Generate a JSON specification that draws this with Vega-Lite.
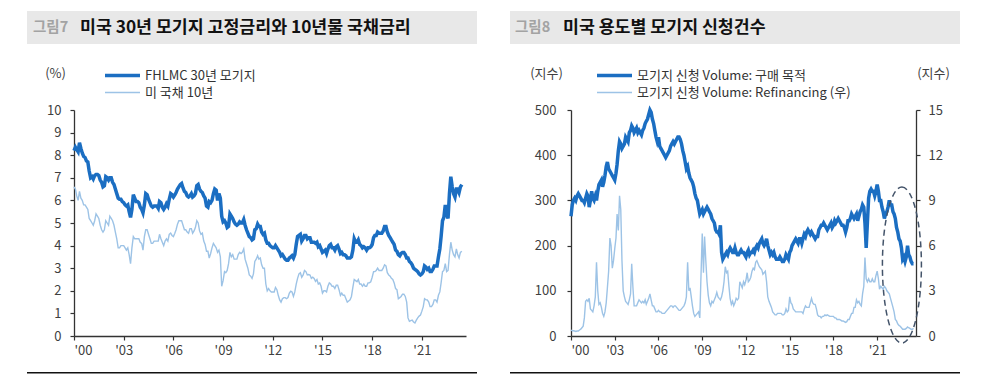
{
  "$schema": "https://vega.github.io/schema/vega-lite/v6.json",
  "padding": {"left": 27, "top": 11, "right": 0, "bottom": 0},
  "background": "white",
  "config": {
    "font": "Noto Sans CJK KR",
    "view": {"stroke": null},
    "axis": {"grid": false, "domainColor": "#333333", "domainWidth": 1.3, "tickColor": "#333333", "tickSize": 4, "tickWidth": 1.2, "labelColor": "#3f3f3f", "labelFontSize": 13, "labelFont": "Noto Sans CJK KR", "titleFont": "Noto Sans CJK KR", "titleFontSize": 13, "titleFontWeight": "normal", "titleColor": "#3f3f3f"},
    "legend": {"labelFont": "Noto Sans CJK KR", "labelLimit": 0}
  },
  "datasets": {
    "rates": [
      {"d":"2000-01","m":8.2,"t":6.6},{"d":"2000-02","m":8.35,"t":6.5},{"d":"2000-03","m":8.25,"t":6.2},{"d":"2000-04","m":8.15,"t":6.0},{"d":"2000-05","m":8.55,"t":6.4},{"d":"2000-06","m":8.3,"t":6.1},{"d":"2000-07","m":8.1,"t":6.0},{"d":"2000-08","m":7.95,"t":5.8},{"d":"2000-09","m":7.9,"t":5.8},{"d":"2000-10","m":7.75,"t":5.7},{"d":"2000-11","m":7.7,"t":5.6},{"d":"2000-12","m":7.3,"t":5.2},
      {"d":"2001-01","m":7.0,"t":5.1},{"d":"2001-02","m":7.05,"t":5.0},{"d":"2001-03","m":6.95,"t":4.9},{"d":"2001-04","m":7.1,"t":5.1},{"d":"2001-05","m":7.15,"t":5.4},{"d":"2001-06","m":7.15,"t":5.3},{"d":"2001-07","m":7.1,"t":5.2},{"d":"2001-08","m":6.9,"t":4.9},{"d":"2001-09","m":6.8,"t":4.7},{"d":"2001-10","m":6.6,"t":4.6},{"d":"2001-11","m":6.65,"t":4.7},{"d":"2001-12","m":7.05,"t":5.1},
      {"d":"2002-01","m":7.0,"t":5.0},{"d":"2002-02","m":6.9,"t":4.9},{"d":"2002-03","m":7.0,"t":5.3},{"d":"2002-04","m":7.0,"t":5.2},{"d":"2002-05","m":6.8,"t":5.1},{"d":"2002-06","m":6.7,"t":4.9},{"d":"2002-07","m":6.5,"t":4.6},{"d":"2002-08","m":6.3,"t":4.3},{"d":"2002-09","m":6.1,"t":3.9},{"d":"2002-10","m":6.05,"t":3.9},{"d":"2002-11","m":6.05,"t":4.0},{"d":"2002-12","m":5.95,"t":4.0},
      {"d":"2003-01","m":5.9,"t":4.0},{"d":"2003-02","m":5.8,"t":3.9},{"d":"2003-03","m":5.75,"t":3.8},{"d":"2003-04","m":5.8,"t":3.9},{"d":"2003-05","m":5.5,"t":3.6},{"d":"2003-06","m":5.25,"t":3.2},{"d":"2003-07","m":5.6,"t":3.9},{"d":"2003-08","m":6.25,"t":4.4},{"d":"2003-09","m":6.1,"t":4.3},{"d":"2003-10","m":5.95,"t":4.3},{"d":"2003-11","m":5.95,"t":4.3},{"d":"2003-12","m":5.9,"t":4.3},
      {"d":"2004-01","m":5.7,"t":4.15},{"d":"2004-02","m":5.6,"t":4.1},{"d":"2004-03","m":5.45,"t":3.8},{"d":"2004-04","m":5.8,"t":4.4},{"d":"2004-05","m":6.3,"t":4.7},{"d":"2004-06","m":6.25,"t":4.7},{"d":"2004-07","m":6.05,"t":4.5},{"d":"2004-08","m":5.9,"t":4.3},{"d":"2004-09","m":5.75,"t":4.1},{"d":"2004-10","m":5.7,"t":4.1},{"d":"2004-11","m":5.75,"t":4.2},{"d":"2004-12","m":5.75,"t":4.2},
      {"d":"2005-01","m":5.75,"t":4.2},{"d":"2005-02","m":5.65,"t":4.2},{"d":"2005-03","m":5.95,"t":4.5},{"d":"2005-04","m":5.9,"t":4.3},{"d":"2005-05","m":5.7,"t":4.15},{"d":"2005-06","m":5.6,"t":4.0},{"d":"2005-07","m":5.7,"t":4.2},{"d":"2005-08","m":5.85,"t":4.3},{"d":"2005-09","m":5.75,"t":4.2},{"d":"2005-10","m":6.05,"t":4.5},{"d":"2005-11","m":6.3,"t":4.55},{"d":"2005-12","m":6.25,"t":4.45},
      {"d":"2006-01","m":6.15,"t":4.4},{"d":"2006-02","m":6.25,"t":4.55},{"d":"2006-03","m":6.35,"t":4.7},{"d":"2006-04","m":6.5,"t":4.95},{"d":"2006-05","m":6.6,"t":5.1},{"d":"2006-06","m":6.7,"t":5.1},{"d":"2006-07","m":6.75,"t":5.1},{"d":"2006-08","m":6.55,"t":4.9},{"d":"2006-09","m":6.4,"t":4.7},{"d":"2006-10","m":6.35,"t":4.7},{"d":"2006-11","m":6.2,"t":4.6},{"d":"2006-12","m":6.15,"t":4.55},
      {"d":"2007-01","m":6.2,"t":4.75},{"d":"2007-02","m":6.3,"t":4.75},{"d":"2007-03","m":6.15,"t":4.55},{"d":"2007-04","m":6.2,"t":4.65},{"d":"2007-05","m":6.3,"t":4.8},{"d":"2007-06","m":6.65,"t":5.1},{"d":"2007-07","m":6.7,"t":5.0},{"d":"2007-08","m":6.5,"t":4.65},{"d":"2007-09","m":6.4,"t":4.5},{"d":"2007-10","m":6.35,"t":4.55},{"d":"2007-11","m":6.2,"t":4.2},{"d":"2007-12","m":6.1,"t":4.05},
      {"d":"2008-01","m":5.75,"t":3.75},{"d":"2008-02","m":5.7,"t":3.75},{"d":"2008-03","m":5.95,"t":3.45},{"d":"2008-04","m":5.9,"t":3.65},{"d":"2008-05","m":6.0,"t":3.9},{"d":"2008-06","m":6.3,"t":4.1},{"d":"2008-07","m":6.5,"t":4.0},{"d":"2008-08","m":6.45,"t":3.9},{"d":"2008-09","m":6.0,"t":3.7},{"d":"2008-10","m":6.3,"t":3.8},{"d":"2008-11","m":6.1,"t":3.5},{"d":"2008-12","m":5.3,"t":2.2},
      {"d":"2009-01","m":5.05,"t":2.45},{"d":"2009-02","m":5.1,"t":2.85},{"d":"2009-03","m":5.0,"t":2.8},{"d":"2009-04","m":4.8,"t":2.9},{"d":"2009-05","m":4.85,"t":3.2},{"d":"2009-06","m":5.4,"t":3.7},{"d":"2009-07","m":5.3,"t":3.5},{"d":"2009-08","m":5.2,"t":3.6},{"d":"2009-09","m":5.05,"t":3.4},{"d":"2009-10","m":4.95,"t":3.4},{"d":"2009-11","m":4.9,"t":3.4},{"d":"2009-12","m":4.95,"t":3.6},
      {"d":"2010-01","m":5.05,"t":3.7},{"d":"2010-02","m":5.0,"t":3.65},{"d":"2010-03","m":5.0,"t":3.7},{"d":"2010-04","m":5.15,"t":3.85},{"d":"2010-05","m":4.9,"t":3.4},{"d":"2010-06","m":4.7,"t":3.2},{"d":"2010-07","m":4.55,"t":3.0},{"d":"2010-08","m":4.4,"t":2.7},{"d":"2010-09","m":4.35,"t":2.65},{"d":"2010-10","m":4.25,"t":2.55},{"d":"2010-11","m":4.3,"t":2.75},{"d":"2010-12","m":4.7,"t":3.3},
      {"d":"2011-01","m":4.75,"t":3.4},{"d":"2011-02","m":4.95,"t":3.55},{"d":"2011-03","m":4.85,"t":3.4},{"d":"2011-04","m":4.85,"t":3.45},{"d":"2011-05","m":4.6,"t":3.15},{"d":"2011-06","m":4.5,"t":3.0},{"d":"2011-07","m":4.55,"t":3.0},{"d":"2011-08","m":4.25,"t":2.3},{"d":"2011-09","m":4.1,"t":2.0},{"d":"2011-10","m":4.1,"t":2.1},{"d":"2011-11","m":4.0,"t":2.0},{"d":"2011-12","m":3.95,"t":1.95},
      {"d":"2012-01","m":3.9,"t":1.95},{"d":"2012-02","m":3.9,"t":1.95},{"d":"2012-03","m":4.0,"t":2.15},{"d":"2012-04","m":3.9,"t":2.05},{"d":"2012-05","m":3.8,"t":1.8},{"d":"2012-06","m":3.7,"t":1.6},{"d":"2012-07","m":3.55,"t":1.5},{"d":"2012-08","m":3.6,"t":1.65},{"d":"2012-09","m":3.5,"t":1.7},{"d":"2012-10","m":3.4,"t":1.7},{"d":"2012-11","m":3.35,"t":1.65},{"d":"2012-12","m":3.35,"t":1.7},
      {"d":"2013-01","m":3.45,"t":1.9},{"d":"2013-02","m":3.5,"t":1.98},{"d":"2013-03","m":3.55,"t":1.95},{"d":"2013-04","m":3.45,"t":1.75},{"d":"2013-05","m":3.6,"t":1.95},{"d":"2013-06","m":4.05,"t":2.3},{"d":"2013-07","m":4.4,"t":2.55},{"d":"2013-08","m":4.45,"t":2.75},{"d":"2013-09","m":4.5,"t":2.8},{"d":"2013-10","m":4.2,"t":2.6},{"d":"2013-11","m":4.3,"t":2.7},{"d":"2013-12","m":4.45,"t":2.9},
      {"d":"2014-01","m":4.45,"t":2.85},{"d":"2014-02","m":4.3,"t":2.7},{"d":"2014-03","m":4.35,"t":2.72},{"d":"2014-04","m":4.35,"t":2.7},{"d":"2014-05","m":4.15,"t":2.55},{"d":"2014-06","m":4.15,"t":2.6},{"d":"2014-07","m":4.15,"t":2.55},{"d":"2014-08","m":4.1,"t":2.42},{"d":"2014-09","m":4.15,"t":2.5},{"d":"2014-10","m":3.95,"t":2.3},{"d":"2014-11","m":4.0,"t":2.35},{"d":"2014-12","m":3.85,"t":2.2},
      {"d":"2015-01","m":3.7,"t":1.9},{"d":"2015-02","m":3.75,"t":2.0},{"d":"2015-03","m":3.8,"t":2.0},{"d":"2015-04","m":3.65,"t":1.95},{"d":"2015-05","m":3.85,"t":2.2},{"d":"2015-06","m":4.0,"t":2.35},{"d":"2015-07","m":4.05,"t":2.3},{"d":"2015-08","m":3.9,"t":2.2},{"d":"2015-09","m":3.9,"t":2.2},{"d":"2015-10","m":3.8,"t":2.1},{"d":"2015-11","m":3.95,"t":2.25},{"d":"2015-12","m":4.0,"t":2.25},
      {"d":"2016-01","m":3.85,"t":2.05},{"d":"2016-02","m":3.65,"t":1.8},{"d":"2016-03","m":3.7,"t":1.9},{"d":"2016-04","m":3.6,"t":1.8},{"d":"2016-05","m":3.6,"t":1.8},{"d":"2016-06","m":3.55,"t":1.65},{"d":"2016-07","m":3.45,"t":1.5},{"d":"2016-08","m":3.45,"t":1.55},{"d":"2016-09","m":3.45,"t":1.6},{"d":"2016-10","m":3.5,"t":1.75},{"d":"2016-11","m":3.8,"t":2.15},{"d":"2016-12","m":4.3,"t":2.5},
      {"d":"2017-01","m":4.15,"t":2.45},{"d":"2017-02","m":4.15,"t":2.4},{"d":"2017-03","m":4.25,"t":2.5},{"d":"2017-04","m":4.05,"t":2.3},{"d":"2017-05","m":4.0,"t":2.3},{"d":"2017-06","m":3.9,"t":2.2},{"d":"2017-07","m":3.95,"t":2.3},{"d":"2017-08","m":3.9,"t":2.2},{"d":"2017-09","m":3.8,"t":2.2},{"d":"2017-10","m":3.9,"t":2.35},{"d":"2017-11","m":3.9,"t":2.35},{"d":"2017-12","m":3.95,"t":2.4},
      {"d":"2018-01","m":4.05,"t":2.6},{"d":"2018-02","m":4.35,"t":2.85},{"d":"2018-03","m":4.45,"t":2.85},{"d":"2018-04","m":4.45,"t":2.9},{"d":"2018-05","m":4.6,"t":3.0},{"d":"2018-06","m":4.55,"t":2.9},{"d":"2018-07","m":4.55,"t":2.9},{"d":"2018-08","m":4.55,"t":2.9},{"d":"2018-09","m":4.65,"t":3.0},{"d":"2018-10","m":4.85,"t":3.15},{"d":"2018-11","m":4.85,"t":3.1},{"d":"2018-12","m":4.6,"t":2.8},
      {"d":"2019-01","m":4.45,"t":2.7},{"d":"2019-02","m":4.35,"t":2.65},{"d":"2019-03","m":4.25,"t":2.55},{"d":"2019-04","m":4.15,"t":2.5},{"d":"2019-05","m":4.05,"t":2.35},{"d":"2019-06","m":3.8,"t":2.1},{"d":"2019-07","m":3.75,"t":2.05},{"d":"2019-08","m":3.6,"t":1.65},{"d":"2019-09","m":3.55,"t":1.7},{"d":"2019-10","m":3.65,"t":1.75},{"d":"2019-11","m":3.7,"t":1.85},{"d":"2019-12","m":3.7,"t":1.85},
      {"d":"2020-01","m":3.6,"t":1.75},{"d":"2020-02","m":3.45,"t":1.5},{"d":"2020-03","m":3.45,"t":0.8},{"d":"2020-04","m":3.3,"t":0.65},{"d":"2020-05","m":3.25,"t":0.68},{"d":"2020-06","m":3.15,"t":0.7},{"d":"2020-07","m":3.0,"t":0.62},{"d":"2020-08","m":2.95,"t":0.58},{"d":"2020-09","m":2.9,"t":0.7},{"d":"2020-10","m":2.85,"t":0.8},{"d":"2020-11","m":2.75,"t":0.88},{"d":"2020-12","m":2.7,"t":0.93},
      {"d":"2021-01","m":2.75,"t":1.1},{"d":"2021-02","m":2.85,"t":1.3},{"d":"2021-03","m":3.1,"t":1.65},{"d":"2021-04","m":3.05,"t":1.6},{"d":"2021-05","m":2.95,"t":1.6},{"d":"2021-06","m":3.0,"t":1.5},{"d":"2021-07","m":2.85,"t":1.3},{"d":"2021-08","m":2.85,"t":1.3},{"d":"2021-09","m":2.95,"t":1.4},{"d":"2021-10","m":3.1,"t":1.6},{"d":"2021-11","m":3.1,"t":1.6},{"d":"2021-12","m":3.1,"t":1.5},
      {"d":"2022-01","m":3.5,"t":1.8},{"d":"2022-02","m":3.85,"t":1.95},{"d":"2022-03","m":4.4,"t":2.35},{"d":"2022-04","m":5.1,"t":2.85},{"d":"2022-05","m":5.25,"t":2.9},{"d":"2022-06","m":5.8,"t":3.2},{"d":"2022-07","m":5.4,"t":2.85},{"d":"2022-08","m":5.2,"t":2.9},{"d":"2022-09","m":6.3,"t":3.6},{"d":"2022-10","m":7.05,"t":4.15},{"d":"2022-11","m":6.6,"t":3.8},{"d":"2022-12","m":6.3,"t":3.6},
      {"d":"2023-01","m":6.15,"t":3.5},{"d":"2023-02","m":6.5,"t":3.85},{"d":"2023-03","m":6.5,"t":3.6},{"d":"2023-04","m":6.35,"t":3.45},{"d":"2023-05","m":6.6,"t":3.7},{"d":"2023-06","m":6.7,"t":3.75}
    ],
    "mba": [
      {"d":"2000-01","p":265,"r":0.4},{"d":"2000-02","p":290,"r":0.35},{"d":"2000-03","p":300,"r":0.35},{"d":"2000-04","p":305,"r":0.33},{"d":"2000-05","p":300,"r":0.3},{"d":"2000-06","p":310,"r":0.33},{"d":"2000-07","p":315,"r":0.33},{"d":"2000-08","p":310,"r":0.4},{"d":"2000-09","p":305,"r":0.45},{"d":"2000-10","p":300,"r":0.55},{"d":"2000-11","p":300,"r":0.65},{"d":"2000-12","p":295,"r":1.2},
      {"d":"2001-01","p":305,"r":2.3},{"d":"2001-02","p":315,"r":2.4},{"d":"2001-03","p":310,"r":2.3},{"d":"2001-04","p":285,"r":2.5},{"d":"2001-05","p":300,"r":1.8},{"d":"2001-06","p":320,"r":1.7},{"d":"2001-07","p":305,"r":1.6},{"d":"2001-08","p":300,"r":2.0},{"d":"2001-09","p":310,"r":2.6},{"d":"2001-10","p":300,"r":4.9},{"d":"2001-11","p":320,"r":3.0},{"d":"2001-12","p":335,"r":2.1},
      {"d":"2002-01","p":340,"r":2.2},{"d":"2002-02","p":345,"r":1.9},{"d":"2002-03","p":330,"r":1.5},{"d":"2002-04","p":340,"r":1.3},{"d":"2002-05","p":355,"r":1.6},{"d":"2002-06","p":375,"r":2.2},{"d":"2002-07","p":385,"r":3.2},{"d":"2002-08","p":370,"r":4.3},{"d":"2002-09","p":365,"r":6.5},{"d":"2002-10","p":360,"r":6.0},{"d":"2002-11","p":355,"r":4.5},{"d":"2002-12","p":350,"r":5.0},
      {"d":"2003-01","p":345,"r":5.8},{"d":"2003-02","p":360,"r":6.5},{"d":"2003-03","p":380,"r":8.1},{"d":"2003-04","p":410,"r":7.0},{"d":"2003-05","p":430,"r":9.3},{"d":"2003-06","p":425,"r":8.4},{"d":"2003-07","p":415,"r":5.0},{"d":"2003-08","p":420,"r":3.0},{"d":"2003-09","p":425,"r":2.6},{"d":"2003-10","p":440,"r":2.3},{"d":"2003-11","p":435,"r":2.2},{"d":"2003-12","p":430,"r":2.1},
      {"d":"2004-01","p":450,"r":2.4},{"d":"2004-02","p":455,"r":2.8},{"d":"2004-03","p":465,"r":4.8},{"d":"2004-04","p":460,"r":3.2},{"d":"2004-05","p":450,"r":2.0},{"d":"2004-06","p":455,"r":2.0},{"d":"2004-07","p":460,"r":2.0},{"d":"2004-08","p":450,"r":2.2},{"d":"2004-09","p":455,"r":2.4},{"d":"2004-10","p":450,"r":2.3},{"d":"2004-11","p":445,"r":2.2},{"d":"2004-12","p":455,"r":2.3},
      {"d":"2005-01","p":460,"r":2.2},{"d":"2005-02","p":470,"r":2.4},{"d":"2005-03","p":475,"r":2.1},{"d":"2005-04","p":480,"r":2.3},{"d":"2005-05","p":490,"r":2.5},{"d":"2005-06","p":500,"r":2.8},{"d":"2005-07","p":495,"r":2.4},{"d":"2005-08","p":480,"r":2.0},{"d":"2005-09","p":470,"r":2.0},{"d":"2005-10","p":455,"r":1.8},{"d":"2005-11","p":440,"r":1.6},{"d":"2005-12","p":430,"r":1.6},
      {"d":"2006-01","p":440,"r":1.7},{"d":"2006-02","p":420,"r":1.6},{"d":"2006-03","p":415,"r":1.6},{"d":"2006-04","p":410,"r":1.5},{"d":"2006-05","p":405,"r":1.5},{"d":"2006-06","p":400,"r":1.5},{"d":"2006-07","p":395,"r":1.6},{"d":"2006-08","p":400,"r":1.7},{"d":"2006-09","p":405,"r":1.8},{"d":"2006-10","p":410,"r":1.9},{"d":"2006-11","p":420,"r":2.0},{"d":"2006-12","p":425,"r":2.0},
      {"d":"2007-01","p":430,"r":1.9},{"d":"2007-02","p":425,"r":2.0},{"d":"2007-03","p":430,"r":2.0},{"d":"2007-04","p":435,"r":1.9},{"d":"2007-05","p":440,"r":1.8},{"d":"2007-06","p":440,"r":1.7},{"d":"2007-07","p":435,"r":1.7},{"d":"2007-08","p":425,"r":1.8},{"d":"2007-09","p":410,"r":1.9},{"d":"2007-10","p":400,"r":2.0},{"d":"2007-11","p":385,"r":2.2},{"d":"2007-12","p":370,"r":2.6},
      {"d":"2008-01","p":375,"r":4.9},{"d":"2008-02","p":360,"r":3.0},{"d":"2008-03","p":350,"r":3.2},{"d":"2008-04","p":345,"r":2.6},{"d":"2008-05","p":340,"r":2.0},{"d":"2008-06","p":330,"r":1.5},{"d":"2008-07","p":315,"r":1.3},{"d":"2008-08","p":305,"r":1.4},{"d":"2008-09","p":300,"r":1.5},{"d":"2008-10","p":285,"r":1.6},{"d":"2008-11","p":270,"r":1.2},{"d":"2008-12","p":275,"r":4.0},
      {"d":"2009-01","p":280,"r":6.8},{"d":"2009-02","p":270,"r":4.2},{"d":"2009-03","p":275,"r":6.6},{"d":"2009-04","p":280,"r":5.0},{"d":"2009-05","p":285,"r":3.6},{"d":"2009-06","p":280,"r":2.7},{"d":"2009-07","p":275,"r":2.2},{"d":"2009-08","p":270,"r":2.0},{"d":"2009-09","p":260,"r":2.3},{"d":"2009-10","p":255,"r":2.2},{"d":"2009-11","p":250,"r":2.4},{"d":"2009-12","p":235,"r":2.6},
      {"d":"2010-01","p":230,"r":2.9},{"d":"2010-02","p":230,"r":2.6},{"d":"2010-03","p":225,"r":2.5},{"d":"2010-04","p":245,"r":2.4},{"d":"2010-05","p":185,"r":2.6},{"d":"2010-06","p":170,"r":3.0},{"d":"2010-07","p":175,"r":3.6},{"d":"2010-08","p":180,"r":4.6},{"d":"2010-09","p":185,"r":4.2},{"d":"2010-10","p":180,"r":4.3},{"d":"2010-11","p":190,"r":3.3},{"d":"2010-12","p":195,"r":2.5},
      {"d":"2011-01","p":190,"r":2.1},{"d":"2011-02","p":185,"r":2.3},{"d":"2011-03","p":185,"r":2.0},{"d":"2011-04","p":195,"r":2.2},{"d":"2011-05","p":185,"r":2.5},{"d":"2011-06","p":180,"r":2.4},{"d":"2011-07","p":180,"r":2.5},{"d":"2011-08","p":185,"r":3.6},{"d":"2011-09","p":190,"r":3.4},{"d":"2011-10","p":185,"r":3.2},{"d":"2011-11","p":185,"r":3.6},{"d":"2011-12","p":180,"r":3.4},
      {"d":"2012-01","p":175,"r":3.7},{"d":"2012-02","p":185,"r":4.2},{"d":"2012-03","p":190,"r":3.6},{"d":"2012-04","p":180,"r":3.7},{"d":"2012-05","p":185,"r":3.9},{"d":"2012-06","p":185,"r":4.3},{"d":"2012-07","p":190,"r":4.5},{"d":"2012-08","p":185,"r":4.4},{"d":"2012-09","p":195,"r":4.9},{"d":"2012-10","p":200,"r":5.0},{"d":"2012-11","p":195,"r":4.8},{"d":"2012-12","p":205,"r":4.6},
      {"d":"2013-01","p":210,"r":4.5},{"d":"2013-02","p":215,"r":4.4},{"d":"2013-03","p":205,"r":4.1},{"d":"2013-04","p":200,"r":4.2},{"d":"2013-05","p":205,"r":4.3},{"d":"2013-06","p":215,"r":3.6},{"d":"2013-07","p":200,"r":2.6},{"d":"2013-08","p":190,"r":2.3},{"d":"2013-09","p":180,"r":2.1},{"d":"2013-10","p":185,"r":1.9},{"d":"2013-11","p":180,"r":1.6},{"d":"2013-12","p":185,"r":1.5},
      {"d":"2014-01","p":175,"r":1.4},{"d":"2014-02","p":170,"r":1.4},{"d":"2014-03","p":170,"r":1.5},{"d":"2014-04","p":170,"r":1.5},{"d":"2014-05","p":175,"r":1.5},{"d":"2014-06","p":170,"r":1.5},{"d":"2014-07","p":165,"r":1.4},{"d":"2014-08","p":165,"r":1.4},{"d":"2014-09","p":170,"r":1.5},{"d":"2014-10","p":180,"r":1.8},{"d":"2014-11","p":175,"r":1.6},{"d":"2014-12","p":170,"r":1.7},
      {"d":"2015-01","p":185,"r":2.6},{"d":"2015-02","p":190,"r":2.2},{"d":"2015-03","p":200,"r":2.1},{"d":"2015-04","p":205,"r":1.8},{"d":"2015-05","p":210,"r":1.7},{"d":"2015-06","p":215,"r":1.6},{"d":"2015-07","p":210,"r":1.6},{"d":"2015-08","p":205,"r":1.6},{"d":"2015-09","p":215,"r":1.6},{"d":"2015-10","p":215,"r":1.6},{"d":"2015-11","p":205,"r":1.6},{"d":"2015-12","p":215,"r":1.5},
      {"d":"2016-01","p":225,"r":1.8},{"d":"2016-02","p":220,"r":2.0},{"d":"2016-03","p":230,"r":1.9},{"d":"2016-04","p":235,"r":1.9},{"d":"2016-05","p":230,"r":1.9},{"d":"2016-06","p":225,"r":2.2},{"d":"2016-07","p":230,"r":2.5},{"d":"2016-08","p":225,"r":2.2},{"d":"2016-09","p":220,"r":2.1},{"d":"2016-10","p":215,"r":2.1},{"d":"2016-11","p":220,"r":1.8},{"d":"2016-12","p":220,"r":1.4},
      {"d":"2017-01","p":235,"r":1.3},{"d":"2017-02","p":240,"r":1.3},{"d":"2017-03","p":245,"r":1.2},{"d":"2017-04","p":245,"r":1.3},{"d":"2017-05","p":250,"r":1.3},{"d":"2017-06","p":245,"r":1.4},{"d":"2017-07","p":240,"r":1.35},{"d":"2017-08","p":235,"r":1.4},{"d":"2017-09","p":240,"r":1.35},{"d":"2017-10","p":245,"r":1.3},{"d":"2017-11","p":250,"r":1.3},{"d":"2017-12","p":240,"r":1.3},
      {"d":"2018-01","p":245,"r":1.3},{"d":"2018-02","p":255,"r":1.2},{"d":"2018-03","p":250,"r":1.2},{"d":"2018-04","p":255,"r":1.1},{"d":"2018-05","p":260,"r":1.1},{"d":"2018-06","p":255,"r":1.1},{"d":"2018-07","p":250,"r":1.05},{"d":"2018-08","p":245,"r":1.0},{"d":"2018-09","p":245,"r":1.0},{"d":"2018-10","p":240,"r":0.95},{"d":"2018-11","p":230,"r":0.9},{"d":"2018-12","p":240,"r":0.95},
      {"d":"2019-01","p":255,"r":1.1},{"d":"2019-02","p":255,"r":1.1},{"d":"2019-03","p":260,"r":1.3},{"d":"2019-04","p":270,"r":1.5},{"d":"2019-05","p":265,"r":1.5},{"d":"2019-06","p":260,"r":1.9},{"d":"2019-07","p":265,"r":1.9},{"d":"2019-08","p":270,"r":2.4},{"d":"2019-09","p":255,"r":2.2},{"d":"2019-10","p":265,"r":2.3},{"d":"2019-11","p":275,"r":2.1},{"d":"2019-12","p":280,"r":2.0},
      {"d":"2020-01","p":290,"r":2.8},{"d":"2020-02","p":285,"r":3.3},{"d":"2020-03","p":250,"r":5.2},{"d":"2020-04","p":195,"r":3.8},{"d":"2020-05","p":250,"r":3.6},{"d":"2020-06","p":305,"r":3.8},{"d":"2020-07","p":320,"r":3.6},{"d":"2020-08","p":325,"r":3.6},{"d":"2020-09","p":320,"r":3.8},{"d":"2020-10","p":320,"r":3.6},{"d":"2020-11","p":310,"r":3.6},{"d":"2020-12","p":320,"r":4.0},
      {"d":"2021-01","p":335,"r":4.3},{"d":"2021-02","p":320,"r":3.8},{"d":"2021-03","p":300,"r":3.1},{"d":"2021-04","p":300,"r":3.3},{"d":"2021-05","p":285,"r":3.2},{"d":"2021-06","p":275,"r":3.1},{"d":"2021-07","p":260,"r":3.3},{"d":"2021-08","p":270,"r":3.2},{"d":"2021-09","p":275,"r":3.0},{"d":"2021-10","p":285,"r":2.9},{"d":"2021-11","p":300,"r":2.8},{"d":"2021-12","p":290,"r":2.5},
      {"d":"2022-01","p":290,"r":2.2},{"d":"2022-02","p":275,"r":1.9},{"d":"2022-03","p":270,"r":1.6},{"d":"2022-04","p":260,"r":1.1},{"d":"2022-05","p":240,"r":1.0},{"d":"2022-06","p":230,"r":0.8},{"d":"2022-07","p":215,"r":0.7},{"d":"2022-08","p":210,"r":0.65},{"d":"2022-09","p":195,"r":0.55},{"d":"2022-10","p":170,"r":0.45},{"d":"2022-11","p":175,"r":0.45},{"d":"2022-12","p":165,"r":0.45},
      {"d":"2023-01","p":175,"r":0.5},{"d":"2023-02","p":200,"r":0.6},{"d":"2023-03","p":180,"r":0.55},{"d":"2023-04","p":175,"r":0.5},{"d":"2023-05","p":165,"r":0.45},{"d":"2023-06","p":160,"r":0.45},{"d":"2023-07","p":160,"r":0.5}
    ],
    "mark8": [{"d":"2022-09-13","v":157}],
    "titles": [{"a":"그림7","b":"미국 30년 모기지 고정금리와 10년물 국채금리","c":"그림8","e":"미국 용도별 모기지 신청건수"}]
  },
  "columns": 2,
  "spacing": {"row": 36, "column": 33},
  "bounds": "flush",
  "resolve": {"scale": {"color": "independent", "strokeWidth": "independent"}, "legend": {"color": "independent", "strokeWidth": "independent"}},
  "concat": [
    {
      "width": 450, "height": 33,
      "view": {"fill": "#e8e8e8", "stroke": null},
      "data": {"name": "titles"},
      "layer": [
        {"mark": {"type": "text", "align": "left", "baseline": "middle", "x": 6, "y": 17, "fontSize": 14.5, "fontWeight": "bold", "color": "#a3a3a3"}, "encoding": {"text": {"field": "a"}}},
        {"mark": {"type": "text", "align": "left", "baseline": "middle", "x": 53, "y": 17, "fontSize": 17.3, "fontWeight": "bold", "color": "#111111"}, "encoding": {"text": {"field": "b"}}}
      ]
    },
    {
      "width": 450, "height": 33,
      "view": {"fill": "#e8e8e8", "stroke": null},
      "data": {"name": "titles"},
      "layer": [
        {"mark": {"type": "text", "align": "left", "baseline": "middle", "x": 5, "y": 17, "fontSize": 14.5, "fontWeight": "bold", "color": "#a3a3a3"}, "encoding": {"text": {"field": "c"}}},
        {"mark": {"type": "text", "align": "left", "baseline": "middle", "x": 53, "y": 17, "fontSize": 17.3, "fontWeight": "bold", "color": "#111111"}, "encoding": {"text": {"field": "e"}}}
      ]
    },
    {
      "width": 450, "height": 256,
      "data": {"name": "rates"},
      "transform": [{"fold": ["m", "t"], "as": ["k", "v"]}],
      "mark": {"type": "line"},
      "encoding": {
        "x": {"field": "d", "type": "temporal",
          "scale": {"type": "utc", "nice": false, "domain": [{"year": 2000, "month": 1, "date": 1, "utc": true}, {"year": 2023, "month": 9, "date": 1, "utc": true}], "range": [47, 439]},
          "axis": {"title": null, "format": "'%y", "labelPadding": 4, "values": [{"year": 2000, "utc": true}, {"year": 2003, "utc": true}, {"year": 2006, "utc": true}, {"year": 2009, "utc": true}, {"year": 2012, "utc": true}, {"year": 2015, "utc": true}, {"year": 2018, "utc": true}, {"year": 2021, "utc": true}]}},
        "y": {"field": "v", "type": "quantitative",
          "scale": {"domain": [0, 10], "nice": false, "range": [256, 30]},
          "axis": {"offset": -47, "values": [0, 1, 2, 3, 4, 5, 6, 7, 8, 9, 10], "labelPadding": 9, "title": "(%)", "titleAngle": 0, "titleAlign": "center", "titleBaseline": "middle", "titleX": -19, "titleY": -6.5}},
        "color": {"field": "k", "type": "nominal",
          "scale": {"domain": ["m", "t"], "range": ["#1b6ec2", "#9dc3e6"]},
          "legend": {"orient": "none", "legendX": 86.5, "legendY": -13.5, "title": null, "symbolType": "M-2.5,0L2.5,0", "symbolSize": 196, "labelOffset": 13.5, "rowPadding": 2, "padding": 0, "labelFontSize": 13, "labelColor": "#333333", "labelExpr": "datum.value == 'm' ? 'FHLMC 30년 모기지' : '미 국채 10년'"}},
        "strokeWidth": {"field": "k", "type": "nominal",
          "scale": {"type": "ordinal", "domain": ["m", "t"], "range": [3.5, 1.4]},
          "legend": {"orient": "none", "legendX": 86.5, "legendY": -13.5, "title": null, "symbolType": "M-2.5,0L2.5,0", "symbolSize": 196, "labelOffset": 13.5, "rowPadding": 2, "padding": 0, "labelFontSize": 13, "labelColor": "#333333", "labelExpr": "datum.value == 'm' ? 'FHLMC 30년 모기지' : '미 국채 10년'"}}
      }
    },
    {
      "width": 450, "height": 256,
      "data": {"name": "mba"},
      "resolve": {"scale": {"y": "independent"}},
      "layer": [
        {
          "transform": [{"fold": ["r"], "as": ["k", "v"]}],
          "mark": {"type": "line"},
          "encoding": {
            "x": {"field": "d", "type": "temporal",
              "scale": {"type": "utc", "nice": false, "domain": [{"year": 2000, "month": 1, "date": 1, "utc": true}, {"year": 2023, "month": 9, "date": 1, "utc": true}], "range": [61, 406]},
              "axis": {"title": null, "format": "'%y", "labelPadding": 4, "values": [{"year": 2000, "utc": true}, {"year": 2003, "utc": true}, {"year": 2006, "utc": true}, {"year": 2009, "utc": true}, {"year": 2012, "utc": true}, {"year": 2015, "utc": true}, {"year": 2018, "utc": true}, {"year": 2021, "utc": true}]}},
            "y": {"field": "v", "type": "quantitative",
              "scale": {"domain": [0, 15], "nice": false, "range": [256, 30]},
              "axis": {"orient": "right", "offset": -44, "values": [0, 3, 6, 9, 12, 15], "labelPadding": 8, "title": "(지수)", "titleAngle": 0, "titleAlign": "center", "titleBaseline": "middle", "titleX": 17, "titleY": -6.5}},
            "color": {"field": "k", "type": "nominal",
              "scale": {"domain": ["p", "r"], "range": ["#1b6ec2", "#9dc3e6"]},
              "legend": {"orient": "none", "legendX": 95.5, "legendY": -13.5, "title": null, "symbolType": "M-2.5,0L2.5,0", "symbolSize": 196, "labelOffset": 13.5, "rowPadding": 2, "padding": 0, "labelFontSize": 13, "labelColor": "#333333", "labelExpr": "datum.value == 'p' ? '모기지 신청 Volume: 구매 목적' : '모기지 신청 Volume: Refinancing (우)'"}},
            "strokeWidth": {"field": "k", "type": "nominal",
              "scale": {"type": "ordinal", "domain": ["p", "r"], "range": [3.5, 1.4]},
              "legend": {"orient": "none", "legendX": 95.5, "legendY": -13.5, "title": null, "symbolType": "M-2.5,0L2.5,0", "symbolSize": 196, "labelOffset": 13.5, "rowPadding": 2, "padding": 0, "labelFontSize": 13, "labelColor": "#333333", "labelExpr": "datum.value == 'p' ? '모기지 신청 Volume: 구매 목적' : '모기지 신청 Volume: Refinancing (우)'"}}
          }
        },
        {
          "layer": [
            {
              "transform": [{"fold": ["p"], "as": ["k", "v"]}],
              "mark": {"type": "line"},
              "encoding": {
                "x": {"field": "d", "type": "temporal"},
                "y": {"field": "v", "type": "quantitative",
                  "scale": {"domain": [0, 500], "nice": false, "range": [256, 30]},
                  "axis": {"orient": "left", "offset": -61, "values": [0, 50, 100, 150, 200, 250, 300, 350, 400, 450, 500], "labelPadding": 11, "title": "(지수)", "titleAngle": 0, "titleAlign": "center", "titleBaseline": "middle", "titleX": -25, "titleY": -6.5}},
                "color": {"field": "k", "type": "nominal",
                  "scale": {"domain": ["p", "r"], "range": ["#1b6ec2", "#9dc3e6"]},
                  "legend": {"orient": "none", "legendX": 95.5, "legendY": -13.5, "title": null, "symbolType": "M-2.5,0L2.5,0", "symbolSize": 196, "labelOffset": 13.5, "rowPadding": 2, "padding": 0, "labelFontSize": 13, "labelColor": "#333333", "labelExpr": "datum.value == 'p' ? '모기지 신청 Volume: 구매 목적' : '모기지 신청 Volume: Refinancing (우)'"}},
                "strokeWidth": {"field": "k", "type": "nominal",
                  "scale": {"type": "ordinal", "domain": ["p", "r"], "range": [3.5, 1.4]},
                  "legend": {"orient": "none", "legendX": 95.5, "legendY": -13.5, "title": null, "symbolType": "M-2.5,0L2.5,0", "symbolSize": 196, "labelOffset": 13.5, "rowPadding": 2, "padding": 0, "labelFontSize": 13, "labelColor": "#333333", "labelExpr": "datum.value == 'p' ? '모기지 신청 Volume: 구매 목적' : '모기지 신청 Volume: Refinancing (우)'"}}
              }
            },
            {
              "data": {"name": "mark8"},
              "mark": {"type": "point", "shape": "M0,-1A0.25,1 0 1,1 0,1A0.25,1 0 1,1 0,-1Z", "size": 24336, "filled": false, "color": "#44546a", "strokeWidth": 1.5, "strokeDash": [6, 4], "opacity": 1},
              "encoding": {
                "x": {"field": "d", "type": "temporal"},
                "y": {"field": "v", "type": "quantitative"}
              }
            }
          ]
        }
      ]
    },
    {
      "width": 450, "height": 1.5,
      "view": {"fill": "#111111", "stroke": null},
      "data": {"name": "titles"},
      "mark": {"type": "text", "text": ""}
    },
    {
      "width": 450, "height": 1.5,
      "view": {"fill": "#111111", "stroke": null},
      "data": {"name": "titles"},
      "mark": {"type": "text", "text": ""}
    }
  ]
}
